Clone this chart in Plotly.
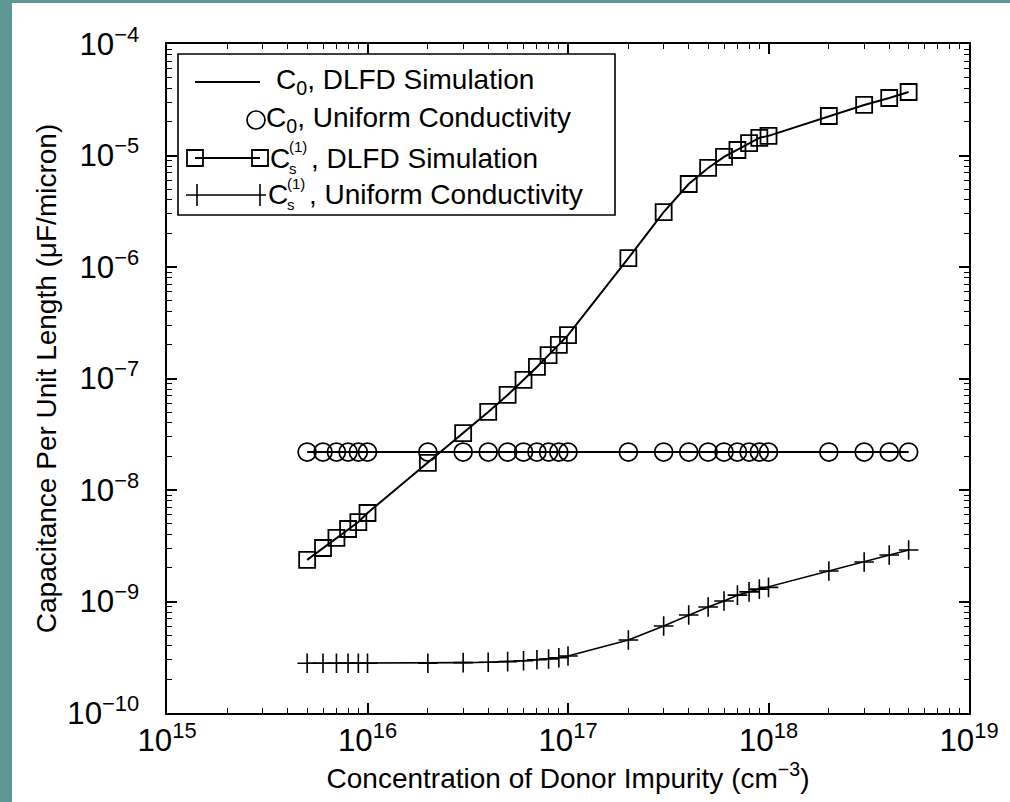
import plotly.graph_objects as go

# Donor concentrations (cm^-3) at which the capacitances were evaluated
conc = [5e15, 6e15, 7e15, 8e15, 9e15, 1e16, 2e16, 3e16, 4e16, 5e16, 6e16, 7e16,
        8e16, 9e16, 1e17, 2e17, 3e17, 4e17, 5e17, 6e17, 7e17, 8e17, 9e17, 1e18,
        2e18, 3e18, 4e18, 5e18]

# C0 (both methods give the same flat value)
c0_dlfd = [2.19e-8] * len(conc)
c0_uniform = [2.19e-8] * len(conc)

# Cs(1), DLFD simulation
cs_dlfd = [2.36e-9, 3.02e-9, 3.72e-9, 4.47e-9, 5.16e-9, 6.22e-9, 1.75e-8, 3.24e-8,
           5.01e-8, 7.12e-8, 9.7e-8, 1.27e-7, 1.62e-7, 2.0e-7, 2.45e-7, 1.20e-6,
           3.11e-6, 5.55e-6, 7.73e-6, 9.7e-6, 1.12e-5, 1.29e-5, 1.44e-5, 1.50e-5,
           2.26e-5, 2.84e-5, 3.28e-5, 3.71e-5]

# Cs(1), uniform conductivity
cs_uniform = [2.79e-10, 2.79e-10, 2.79e-10, 2.79e-10, 2.79e-10, 2.79e-10, 2.79e-10,
              2.83e-10, 2.85e-10, 2.89e-10, 2.94e-10, 3.0e-10, 3.05e-10, 3.13e-10,
              3.24e-10, 4.52e-10, 6.03e-10, 7.56e-10, 8.93e-10, 1.01e-9, 1.14e-9,
              1.22e-9, 1.29e-9, 1.34e-9, 1.88e-9, 2.26e-9, 2.61e-9, 2.9e-9]

FONT = "Liberation Sans, Arial, sans-serif"
W, H = 1010, 802
L, R, T, B = 167, 41, 44, 89
PW, PH = W - L - R, H - T - B


def px(x):
    return (x - L) / PW


def py(y):
    return (H - B - y) / PH


fig = go.Figure()

fig.add_trace(go.Scatter(x=conc, y=c0_dlfd, mode="lines",
                         line=dict(color="black", width=2), showlegend=False))
fig.add_trace(go.Scatter(x=conc, y=c0_uniform, mode="markers",
                         marker=dict(symbol="circle-open", size=18, color="black",
                                     line=dict(width=1.7)), showlegend=False))
fig.add_trace(go.Scatter(x=conc, y=cs_dlfd, mode="lines+markers",
                         line=dict(color="black", width=2),
                         marker=dict(symbol="square-open", size=16, color="black",
                                     line=dict(width=1.8)), showlegend=False))
fig.add_trace(go.Scatter(x=conc, y=cs_uniform, mode="lines+markers",
                         line=dict(color="black", width=1.6),
                         marker=dict(symbol="cross-thin-open", size=14, color="black",
                                     line=dict(width=1.6)), showlegend=False))

axis_common = dict(
    type="log", showgrid=False, zeroline=False, showline=True, linecolor="black",
    linewidth=1.6, mirror="allticks", ticks="inside", ticklen=10, tickwidth=1.6,
    tickcolor="black", dtick=1, exponentformat="power",
    minor=dict(ticks="inside", ticklen=5, tickwidth=1.3, tickcolor="black", dtick="D1"),
)

fig.update_xaxes(range=[15, 19], **axis_common,
                 tickfont=dict(family=FONT, size=25, color="black"),
                 title=dict(text="Concentration of Donor Impurity (cm<sup>−3</sup>)",
                            font=dict(family=FONT, size=28, color="black"), standoff=8))
fig.update_yaxes(range=[-10, -4], **axis_common, ticklabelstandoff=21,
                 tickfont=dict(family=FONT, size=25, color="black"),
                 title=dict(text="Capacitance Per Unit Length (μF/micron)",
                            font=dict(family=FONT, size=28, color="black"), standoff=3))

shapes = []
annotations = []

# Slide border strips
teal = "#5f9794"
shapes.append(dict(type="rect", xref="paper", yref="paper", x0=px(0), x1=px(12),
                   y0=py(H), y1=py(0), fillcolor=teal, line=dict(width=0), layer="above"))
shapes.append(dict(type="rect", xref="paper", yref="paper", x0=px(0), x1=px(W),
                   y0=py(3), y1=py(0), fillcolor=teal, line=dict(width=0), layer="above"))

# Legend frame
shapes.append(dict(type="rect", xref="paper", yref="paper", x0=px(178), x1=px(615),
                   y0=py(215), y1=py(54), fillcolor="white",
                   line=dict(color="black", width=1.6), layer="above"))

# Legend row 1: plain line
shapes.append(dict(type="line", xref="paper", yref="paper", x0=px(195), x1=px(260),
                   y0=py(82), y1=py(82), line=dict(color="black", width=2), layer="above"))

# Legend row 2: single circle
shapes.append(dict(type="circle", xref="paper", yref="paper", xsizemode="pixel",
                   ysizemode="pixel", xanchor=px(256), yanchor=py(120), x0=-9, x1=9,
                   y0=-9, y1=9, line=dict(color="black", width=1.7), layer="above"))

# Legend row 3: line with squares at both ends
shapes.append(dict(type="line", xref="paper", yref="paper", x0=px(195), x1=px(260),
                   y0=py(158), y1=py(158), line=dict(color="black", width=2), layer="above"))
for cx in (195, 260):
    shapes.append(dict(type="rect", xref="paper", yref="paper", xsizemode="pixel",
                       ysizemode="pixel", xanchor=px(cx), yanchor=py(158), x0=-8, x1=8,
                       y0=-8, y1=8, line=dict(color="black", width=1.8), layer="above"))

# Legend row 4: line with crosses at both ends
shapes.append(dict(type="line", xref="paper", yref="paper", x0=px(186), x1=px(266),
                   y0=py(195), y1=py(195), line=dict(color="black", width=1.6), layer="above"))
for cx in (197, 260):
    shapes.append(dict(type="line", xref="paper", yref="paper", x0=px(cx), x1=px(cx),
                       y0=py(184), y1=py(206), line=dict(color="black", width=1.6),
                       layer="above"))

fs = 28
sub_fs = 15


def text(x, y, s, size=fs):
    annotations.append(dict(x=px(x), y=py(y), xref="paper", yref="paper", text=s,
                            showarrow=False, xanchor="left", yanchor="middle",
                            font=dict(family=FONT, size=size, color="black")))


text(274, 82, "C<sub>0</sub>, DLFD Simulation")
text(264, 120, "C<sub>0</sub>, Uniform Conductivity")

for row_y, label, cx in ((158, ", DLFD Simulation", 268), (195, ", Uniform Conductivity", 266)):
    text(cx, row_y, "C")
    text(cx + 19, row_y + 10, "s", sub_fs)
    text(cx + 19, row_y - 12, "(1)", sub_fs)
    text(cx + 41, row_y, label)

fig.update_layout(
    width=W, height=H, margin=dict(l=L, r=R, t=T, b=B, autoexpand=False),
    paper_bgcolor="white", plot_bgcolor="white",
    shapes=shapes, annotations=annotations, showlegend=False,
)

fig.write_html("out.html")
